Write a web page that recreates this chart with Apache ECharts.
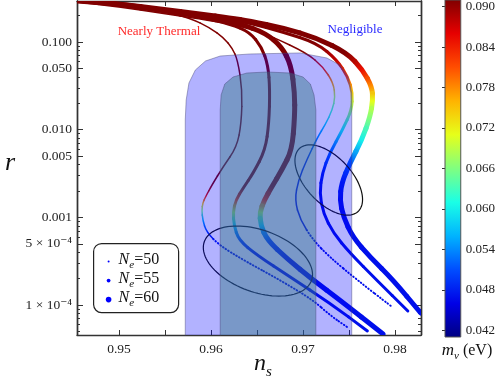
<!DOCTYPE html>
<html>
<head>
<meta charset="utf-8">
<script src="https://cdn.jsdelivr.net/npm/echarts@6/dist/echarts.min.js"></script>
<style>
html, body { margin: 0; padding: 0; background: #fff; }
#chart { width: 498px; height: 378px; }
</style>
</head>
<body>
<div id="chart"></div>
<script>
// each point: [n_s, r, m_nu (eV)]
const thermal50 = [
  [0.9454, 0.293, 0.091], [0.9501, 0.264, 0.091], [0.9545, 0.226, 0.091], [0.9577, 0.188, 0.091],
  [0.9599, 0.145, 0.091], [0.9614, 0.111, 0.091], [0.9623, 0.0855, 0.091], [0.9629, 0.0623, 0.091],
  [0.9634, 0.0284, 0.091], [0.9633, 0.0119, 0.091], [0.9628, 0.00635, 0.091], [0.9613, 0.00376, 0.091],
  [0.9601, 0.00234, 0.091], [0.9594, 0.00171, 0.085], [0.9591, 0.00146, 0.075], [0.9590, 0.00121, 0.066],
  [0.9591, 0.000934, 0.056], [0.9595, 0.000681, 0.049], [0.9610, 0.000472, 0.047], [0.9639, 0.000310, 0.047],
  [0.9675, 0.000193, 0.047], [0.9711, 0.000114, 0.047], [0.9729, 0.0000771, 0.047], [0.9748, 0.0000562, 0.047]
];
const thermal55 = [
  [0.9454, 0.293, 0.091], [0.9501, 0.264, 0.091], [0.9545, 0.226, 0.091], [0.9588, 0.193, 0.091],
  [0.9621, 0.160, 0.091], [0.9642, 0.130, 0.091], [0.9655, 0.0877, 0.091], [0.9662, 0.0547, 0.091],
  [0.9664, 0.0284, 0.091], [0.9663, 0.0119, 0.091], [0.9659, 0.00587, 0.091], [0.9646, 0.00321, 0.091],
  [0.9635, 0.00216, 0.091], [0.9627, 0.00158, 0.083], [0.9624, 0.00115, 0.068], [0.9625, 0.000818, 0.058],
  [0.9630, 0.000552, 0.050], [0.9650, 0.000372, 0.047], [0.9686, 0.000209, 0.047], [0.9729, 0.000106, 0.047],
  [0.9770, 0.0000507, 0.047]
];
const thermal60 = [
  [0.9454, 0.293, 0.091], [0.9501, 0.271, 0.091], [0.9545, 0.232, 0.091], [0.9588, 0.198, 0.091],
  [0.9632, 0.160, 0.091], [0.9659, 0.127, 0.091], [0.9677, 0.0877, 0.091], [0.9687, 0.0547, 0.091],
  [0.9691, 0.0262, 0.091], [0.9691, 0.0140, 0.091], [0.9688, 0.00587, 0.091], [0.9677, 0.00347, 0.091],
  [0.9666, 0.00222, 0.091], [0.9658, 0.00158, 0.084], [0.9653, 0.00115, 0.068], [0.9654, 0.000818, 0.058],
  [0.9661, 0.000552, 0.050], [0.9683, 0.000336, 0.047], [0.9711, 0.000193, 0.047], [0.9740, 0.000114, 0.047],
  [0.9787, 0.0000468, 0.047]
];
const negligible50 = [
  [0.9454, 0.286, 0.091], [0.9501, 0.251, 0.091], [0.9545, 0.214, 0.091], [0.9588, 0.183, 0.091],
  [0.9621, 0.160, 0.091], [0.9642, 0.145, 0.091], [0.9667, 0.114, 0.091], [0.9704, 0.0750, 0.091],
  [0.9722, 0.0519, 0.085], [0.9733, 0.0341, 0.077], [0.9735, 0.0236, 0.068], [0.9732, 0.0168, 0.063],
  [0.9724, 0.0113, 0.058], [0.9716, 0.00826, 0.054], [0.9704, 0.00452, 0.049], [0.9695, 0.00267, 0.048],
  [0.9691, 0.00158, 0.047], [0.9697, 0.000934, 0.047], [0.9711, 0.000552, 0.047], [0.9729, 0.000353, 0.047],
  [0.9759, 0.000193, 0.047], [0.9797, 0.0000951, 0.047]
];
const negligible55 = [
  [0.9454, 0.293, 0.091], [0.9501, 0.264, 0.091], [0.9545, 0.226, 0.091], [0.9588, 0.198, 0.091],
  [0.9621, 0.178, 0.091], [0.9642, 0.165, 0.091], [0.9678, 0.130, 0.091], [0.9715, 0.0975, 0.091],
  [0.9737, 0.0623, 0.088], [0.9749, 0.0399, 0.082], [0.9754, 0.0262, 0.074], [0.9753, 0.0168, 0.067],
  [0.9743, 0.00993, 0.060], [0.9729, 0.00542, 0.052], [0.9721, 0.00321, 0.048], [0.9718, 0.00190, 0.047],
  [0.9722, 0.00112, 0.047], [0.9733, 0.000663, 0.047], [0.9751, 0.000393, 0.047], [0.9780, 0.000193, 0.047],
  [0.9814, 0.0000857, 0.047]
];
const negligible60 = [
  [0.9454, 0.301, 0.091], [0.9501, 0.271, 0.091], [0.9545, 0.238, 0.091], [0.9588, 0.209, 0.091],
  [0.9621, 0.188, 0.091], [0.9642, 0.173, 0.091], [0.9678, 0.145, 0.091], [0.9715, 0.111, 0.091],
  [0.9748, 0.0750, 0.091], [0.9765, 0.0480, 0.085], [0.9775, 0.0307, 0.078], [0.9776, 0.0218, 0.071],
  [0.9773, 0.0140, 0.066], [0.9764, 0.00764, 0.060], [0.9751, 0.00417, 0.052], [0.9742, 0.00247, 0.048],
  [0.9740, 0.00158, 0.047], [0.9744, 0.00101, 0.047], [0.9754, 0.000597, 0.047], [0.9773, 0.000353, 0.047],
  [0.9798, 0.000193, 0.047], [0.9828, 0.0000813, 0.047]
];

// Planck contours (outline, open at the bottom)
const outerNs = [0.9572, 0.9572, 0.9573, 0.9576, 0.9583, 0.9594, 0.9610, 0.9642, 0.9697, 0.9726, 0.9740, 0.9749, 0.9753, 0.9753];
const outerR  = [1e-5, 0.0129, 0.0218, 0.0341, 0.0480, 0.0607, 0.0692, 0.0730, 0.0750, 0.0657, 0.0547, 0.0399, 0.0262, 1e-5];
const innerNs = [0.9610, 0.9610, 0.9611, 0.9615, 0.9624, 0.9639, 0.9661, 0.9686, 0.9700, 0.9708, 0.9712, 0.9714, 0.9714];
const innerR  = [1e-5, 0.0168, 0.0249, 0.0332, 0.0399, 0.0443, 0.0455, 0.0443, 0.0399, 0.0332, 0.0249, 0.0168, 1e-5];

const ellipseCenters = [[0.9651, 0.000318], [0.9728, 0.00267]];
const ellipseShapes = [[57, 31, 20], [43, 23, 47]]; // semi-axes px, tilt deg

const nsTicks = [0.95, 0.955, 0.96, 0.965, 0.97, 0.975, 0.98];
const nsLabels = [0.95, 0.96, 0.97, 0.98];
const rLabelValues = [0.1, 0.05, 0.01, 0.005, 0.001, 5e-4, 1e-4];
const rLabelText = ['0.100', '0.050', '0.010', '0.005', '0.001', '5 \u00d7 10\u207b\u2074', '1 \u00d7 10\u207b\u2074'];
const mnuTicks = [0.042, 0.048, 0.054, 0.060, 0.066, 0.072, 0.078, 0.084, 0.090];
const mnuRange = [0.041, 0.091];
const legendNe = ['50', '55', '60'];

const jetColors = ['#000080', '#0000e6', '#004dff', '#00b3ff', '#1affe6', '#80ff80',
  '#e6ff1a', '#ffb300', '#ff4d00', '#e60000', '#800000'];

const L10 = Math.log10;
const SERIF = '"Liberation Serif", "DejaVu Serif", serif';
const X_MIN = 0.94543, X_MAX = 0.98283, Y_MIN = -4.341, Y_MAX = -0.5325;
const DOT_BELOW = L10(6e-4); // thin curves are drawn as dots below this r

const minorTicks = [];
for (let e = -5; e <= -1; e++) {
  for (let k = 1; k <= 9; k++) {
    const v = k * Math.pow(10, e);
    if (!rLabelValues.some(t => Math.abs(t / v - 1) < 1e-6)) minorTicks.push(L10(v));
  }
}

function curveSeries(pts, width) {
  const data = pts.map(p => [p[0], L10(p[1]), p[2]]);
  const n = data.length;
  const mid = (a, b) => [(a[0] + b[0]) / 2, (a[1] + b[1]) / 2];
  return {
    type: 'custom', xAxisIndex: 0, yAxisIndex: 0, clip: true,
    data: data,
    encode: { x: 0, y: 1 },
    renderItem(params, api) {
      const i = params.dataIndex;
      const at = k => api.coord([data[k][0], data[k][1]]);
      const cur = at(i);
      const a = i > 0 ? mid(at(i - 1), cur) : cur;
      const b = i < n - 1 ? mid(cur, at(i + 1)) : cur;
      const c = api.visual('color');
      const cp = i > 0 ? api.visual('color', i - 1) || c : c;
      const cn = i < n - 1 ? api.visual('color', i + 1) || c : c;
      let stroke = c;
      if ((a[0] !== b[0] || a[1] !== b[1]) && (cp !== c || cn !== c)) {
        stroke = new echarts.graphic.LinearGradient(a[0], a[1], b[0], b[1], [
          { offset: 0, color: echarts.color.lerp(0.5, [cp, c]) },
          { offset: 0.5, color: c },
          { offset: 1, color: echarts.color.lerp(0.5, [c, cn]) }
        ], true);
      }
      const dotted = width < 2 && data[i][1] < DOT_BELOW;
      return {
        type: 'bezierCurve',
        shape: { x1: a[0], y1: a[1], x2: b[0], y2: b[1], cpx1: cur[0], cpy1: cur[1] },
        style: {
          fill: 'none', stroke: stroke, lineWidth: dotted ? 1.9 : width, lineCap: 'round',
          lineDash: dotted ? [0.7, 2.5] : null
        }
      };
    }
  };
}

function regionSeries(ns, r, fill) {
  return {
    type: 'line', xAxisIndex: 0, yAxisIndex: 0, clip: true, symbol: 'none', silent: true,
    data: ns.map((x, i) => [x, L10(r[i])]),
    lineStyle: { color: 'rgba(70,70,120,0.45)', width: 1 },
    areaStyle: { color: fill, origin: 'start', opacity: 1 }
  };
}

const axisLineStyle = { show: true, onZero: false, lineStyle: { color: '#333', width: 1.4 } };
const labelFont = { fontFamily: SERIF, fontSize: 13, color: '#222' };

function nsAxis(pos, labels) {
  return {
    type: 'value', gridIndex: 0, position: pos, min: X_MIN, max: X_MAX,
    splitLine: { show: false }, axisLine: axisLineStyle,
    axisTick: { customValues: nsTicks, inside: true, length: 5, lineStyle: { color: '#333' } },
    axisLabel: labels ? Object.assign({ customValues: nsLabels, margin: 7, formatter: v => v.toFixed(2) }, labelFont, { fontSize: 13.5 }) : { show: false }
  };
}
function rAxis(pos, ticks, len, labels) {
  return {
    type: 'value', gridIndex: 0, position: pos, min: Y_MIN, max: Y_MAX,
    splitLine: { show: false }, axisLine: axisLineStyle,
    axisTick: { customValues: ticks, inside: true, length: len, lineStyle: { color: '#333' } },
    axisLabel: labels ? Object.assign({
      customValues: rLabelValues.map(L10), margin: 5,
      formatter: v => {
        const i = rLabelValues.findIndex(t => Math.abs(L10(t) - v) < 1e-6);
        return i >= 0 ? rLabelText[i] : '';
      }
    }, labelFont, { fontSize: 13.5 }) : { show: false }
  };
}

const majorTicks = rLabelValues.map(L10);

const chart = echarts.init(document.getElementById('chart'));
chart.setOption({
  animation: false,
  backgroundColor: '#fff',
  grid: [
    { left: 77, top: 1, width: 344, height: 334 },
    { left: 445, top: 0, width: 17, height: 337 }
  ],
  xAxis: [
    nsAxis('bottom', true),
    nsAxis('top', false),
    { type: 'value', gridIndex: 1, min: 0, max: 1, show: false }
  ],
  yAxis: [
    rAxis('left', majorTicks, 6, true),
    rAxis('left', minorTicks, 3, false),
    rAxis('right', majorTicks, 6, false),
    rAxis('right', minorTicks, 3, false),
    {
      type: 'value', gridIndex: 1, position: 'right', min: mnuRange[0], max: mnuRange[1],
      splitLine: { show: false }, axisLine: { show: false },
      axisTick: { customValues: mnuTicks, inside: true, length: 3, lineStyle: { color: '#333' } },
      axisLabel: Object.assign({ customValues: mnuTicks, margin: 5, formatter: v => v.toFixed(3) }, labelFont)
    }
  ],
  visualMap: {
    type: 'continuous', show: false, min: mnuRange[0], max: mnuRange[1], dimension: 2,
    seriesIndex: [0, 1, 2, 3, 4, 5], inRange: { color: jetColors }
  },
  series: [
    curveSeries(negligible60, 5),
    curveSeries(negligible55, 3),
    curveSeries(negligible50, 1.5),
    curveSeries(thermal60, 5),
    curveSeries(thermal55, 3),
    curveSeries(thermal50, 1.5),
    regionSeries(outerNs, outerR, 'rgba(0,0,255,0.3)'),
    regionSeries(innerNs, innerR, 'rgba(52,119,133,0.45)'),
    {
      type: 'custom', xAxisIndex: 0, yAxisIndex: 0, clip: true, silent: true,
      data: ellipseCenters.map(c => [c[0], L10(c[1])]),
      renderItem(params, api) {
        const c = api.coord([api.value(0), api.value(1)]);
        const s = ellipseShapes[params.dataIndex];
        const th = s[2] * Math.PI / 180;
        const pts = [];
        for (let k = 0; k <= 96; k++) {
          const t = k / 96 * 2 * Math.PI;
          pts.push([
            c[0] + s[0] * Math.cos(t) * Math.cos(th) - s[1] * Math.sin(t) * Math.sin(th),
            c[1] + s[0] * Math.cos(t) * Math.sin(th) + s[1] * Math.sin(t) * Math.cos(th)
          ]);
        }
        return { type: 'polygon', shape: { points: pts }, style: { fill: 'none', stroke: '#111', lineWidth: 1.2 } };
      }
    },
    {
      type: 'custom', xAxisIndex: 2, yAxisIndex: 4, silent: true,
      data: [[0, mnuRange[0], 1, mnuRange[1]]],
      renderItem(params, api) {
        const p1 = api.coord([api.value(0), api.value(3)]);
        const p2 = api.coord([api.value(2), api.value(1)]);
        const stops = jetColors.map((c, i) => ({ offset: i / (jetColors.length - 1), color: c }));
        return {
          type: 'rect',
          shape: { x: p1[0], y: p1[1], width: p2[0] - p1[0], height: p2[1] - p1[1] },
          style: { fill: new echarts.graphic.LinearGradient(0, 1, 0, 0, stops), stroke: '#555', lineWidth: 1 }
        };
      }
    }
  ],
  graphic: [
    { type: 'text', x: 159, y: 32, style: { text: 'Nearly Thermal', font: '13px ' + SERIF, fill: '#ff2a2a', align: 'center', verticalAlign: 'middle' } },
    { type: 'text', x: 355, y: 30, style: { text: 'Negligible', font: '13px ' + SERIF, fill: '#2a2aff', align: 'center', verticalAlign: 'middle' } },
    { type: 'text', x: 10, y: 163, style: { text: 'r', font: 'italic 26px ' + SERIF, fill: '#111', align: 'center', verticalAlign: 'middle' } },
    {
      type: 'text', x: 263, y: 366,
      style: {
        text: '{n|n}{s|s}', align: 'center', verticalAlign: 'middle',
        rich: {
          n: { fontFamily: SERIF, fontStyle: 'italic', fontSize: 24, fill: '#111', verticalAlign: 'bottom', padding: [0, 0, 4, 0] },
          s: { fontFamily: SERIF, fontStyle: 'italic', fontSize: 15, fill: '#111', verticalAlign: 'bottom' }
        }
      }
    },
    {
      type: 'text', x: 467, y: 352,
      style: {
        text: '{m|m}{s|\u03bd}{e| (eV)}', align: 'center', verticalAlign: 'middle',
        rich: {
          m: { fontFamily: SERIF, fontStyle: 'italic', fontSize: 17, fill: '#111', verticalAlign: 'bottom', padding: [0, 0, 3, 0] },
          s: { fontFamily: SERIF, fontStyle: 'italic', fontSize: 11, fill: '#111', verticalAlign: 'bottom' },
          e: { fontFamily: SERIF, fontSize: 16, fill: '#111', verticalAlign: 'bottom', padding: [0, 0, 3, 0] }
        }
      }
    },
    {
      type: 'group', left: 93, top: 243,
      children: [
        { type: 'rect', shape: { x: 0, y: 0, width: 85, height: 69, r: 8 }, style: { fill: '#fff', stroke: '#222', lineWidth: 1.2 } }
      ].concat(legendNe.flatMap((ne, i) => [
        { type: 'circle', shape: { cx: 15, cy: 18 + i * 19, r: 1 + i * 0.9 }, style: { fill: '#0000ff' } },
        {
          type: 'text', x: 25, y: 18 + i * 19,
          style: {
            text: '{n|N}{e|e}{v|=' + ne + '}', verticalAlign: 'middle',
            rich: {
              n: { fontFamily: SERIF, fontStyle: 'italic', fontSize: 16, fill: '#111', verticalAlign: 'bottom', padding: [0, 0, 3, 0] },
              e: { fontFamily: SERIF, fontStyle: 'italic', fontSize: 11, fill: '#111', verticalAlign: 'bottom' },
              v: { fontFamily: SERIF, fontSize: 16, fill: '#111', verticalAlign: 'bottom', padding: [0, 0, 3, 0] }
            }
          }
        }
      ]))
    }
  ]
});
</script>
</body>
</html>
